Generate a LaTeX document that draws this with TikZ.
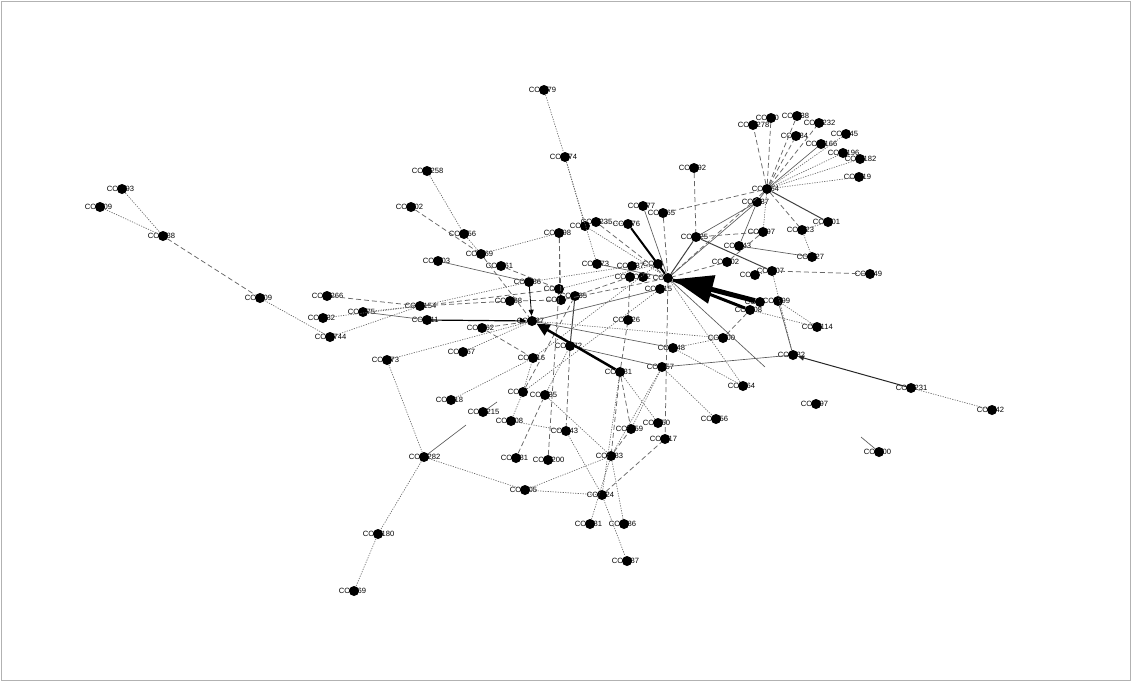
\documentclass[tikz,border=0pt]{standalone}
\usepackage{fontspec}
\setmainfont{Liberation Sans}
\usetikzlibrary{arrows.meta}

\tikzset{
  lab/.style={inner sep=0.3pt, font=\fontsize{7.6}{8}\selectfont},
  cog/.style={circle, fill=black, inner sep=0pt, minimum size=10pt,
    label={[lab, label distance=-2pt]left:CO},
    label={[lab, label distance=-2pt]right:#1}},
  cog/.default={},
  dt/.style={gray!80!black, line width=0.65pt, dash pattern=on 1.2pt off 1.3pt},
  ds/.style={gray!80!black, line width=0.75pt, dash pattern=on 5pt off 3pt},
  sl/.style={gray!70!black, line width=0.65pt},
  dk/.style={black!75, line width=1pt},
  arr/.style={black, line width=1.2pt, -{Triangle[length=7pt,width=6pt]}},
}

\begin{document}
\begin{tikzpicture}[x=1pt,y=-1pt]
\useasboundingbox (0,0) rectangle (1131,681);
\draw[gray!60, line width=0.8pt] (1,1) rectangle (1130,680);

% nodes, left
\node[cog=93] (c193) at (122,189) {};
\node[cog=09] (c209) at (100,207) {};
\node[cog=88] (c188) at (163,236) {};
\node[cog=09] (c109) at (260,298) {};
\node[cog=266] (c266) at (327,296) {};
\node[cog=32] (c32) at (323,318) {};
\node[cog=744] (c744) at (330,337) {};
\node[cog=75] (c75) at (363,312) {};
\node[cog=154] (c154) at (420,306) {};
\node[cog=11] (c11) at (427,320) {};
\node[cog=73] (c73) at (387,360) {};
\node[cog=282] (c282) at (424,457) {};
\node[cog=180] (c180) at (378,534) {};
\node[cog=69] (c69) at (354,591) {};
\node[cog=258] (c258) at (427,171) {};
\node[cog=02] (c102) at (411,207) {};
\node[cog=56] (c156) at (464,234) {};
\node[cog=69] (c169) at (481,254) {};
\node[cog=03] (c103) at (438,261) {};
\node[cog=61] (c61) at (501,266) {};
\node[cog=86] (c86a) at (529,282) {};
\node[cog] (c559) at (559,289) {};
\node[cog=35] (c575) at (575,296) {};
\node[cog] (c561) at (561,300) {};
\node[cog=88] (c88) at (510,301) {};
\node[cog=37] (c37) at (532,321) {};
\node[cog=62] (c162) at (482,328) {};
\node[cog=67] (c67) at (463,352) {};
\node[cog=72] (c72) at (570,346) {};
\node[cog=16] (c16) at (533,358) {};
\node[cog=18] (c18) at (451,400) {};
\node[cog] (c523) at (523,392) {};
\node[cog=35] (c545) at (545,395) {};
\node[cog=215] (c215) at (483,412) {};
\node[cog=08] (c08) at (511,421) {};
\node[cog=43] (c43) at (566,431) {};
\node[cog=81] (c81) at (516,458) {};
\node[cog=200] (c200) at (548,460) {};
\node[cog=05] (c05) at (525,490) {};

% nodes, centre
\node[cog=79] (c79) at (544,90) {};
\node[cog=74] (c174) at (565,157) {};
\node[cog=98] (c98) at (559,233) {};
\node[cog] (c585) at (585,226) {};
\node[cog=235] (c235) at (596,222) {};
\node[cog=76] (c76) at (628,224) {};
\node[cog=77] (c77) at (643,206) {};
\node[cog=65] (c65) at (663,213) {};
\node[cog=92] (c92) at (694,168) {};
\node[cog=25] (c25) at (696,237) {};
\node[cog=73] (c173) at (597,264) {};
\node[cog=37] (c137) at (632,266) {};
\node[cog] (c630) at (630,277) {};
\node[cog=2] (c643) at (643,277) {};
\node[cog] (c658) at (658,264) {};
\node[cog=15] (c660) at (660,289) {};
\node[cog] (hub) at (668,278) {};
\node[cog=26] (c126) at (628,320) {};
\node[cog=00] (c100) at (723,338) {};
\node[cog=48] (c148) at (673,348) {};
\node[cog=57] (c57) at (662,367) {};
\node[cog=81] (c281) at (620,372) {};
\node[cog=64] (c64) at (743,386) {};
\node[cog=56] (c56) at (716,419) {};
\node[cog=50] (c50) at (658,423) {};
\node[cog=59] (c59) at (631,429) {};
\node[cog=17] (c17) at (665,439) {};
\node[cog=83] (c83) at (611,456) {};
\node[cog=24] (c24) at (602,495) {};
\node[cog=81] (c181) at (590,524) {};
\node[cog=86] (c86) at (624,524) {};
\node[cog=87] (c87) at (627,561) {};

% nodes, right
\node[cog=02] (c202) at (727,262) {};
\node[cog=43] (c243) at (739,246) {};
\node[cog] (c755) at (755,275) {};
\node[cog=07] (c207) at (772,271) {};
\node[cog=27] (c127) at (812,257) {};
\node[cog=49] (c49) at (870,274) {};
\node[cog] (c760) at (760,302) {};
\node[cog=99] (c99) at (778,301) {};
\node[cog=08] (c308) at (750,310) {};
\node[cog=114] (c114) at (817,327) {};
\node[cog=82] (c82) at (793,355) {};
\node[cog=97] (c197) at (816,404) {};
\node[cog=231] (c231) at (911,388) {};
\node[cog=42] (c42) at (992,410) {};
\node[cog=00] (c900) at (879,452) {};
\node[cog=64] (c164) at (767,189) {};
\node[cog=37] (c237) at (757,202) {};
\node[cog=97] (c297) at (763,232) {};
\node[cog=23] (c23) at (802,230) {};
\node[cog=01] (c301) at (828,222) {};
\node[cog=278] (c278) at (753,125) {};
\node[cog=0] (c10) at (771,118) {};
\node[cog=38] (c38) at (797,116) {};
\node[cog=232] (c232) at (819,123) {};
\node[cog=84] (c84) at (796,136) {};
\node[cog=45] (c45) at (846,134) {};
\node[cog=166] (c166) at (821,144) {};
\node[cog=196] (c196) at (843,153) {};
\node[cog=182] (c182) at (860,159) {};
\node[cog=19] (c19) at (859,177) {};

\coordinate (s1) at (466,425);
\coordinate (s2) at (765,367);
\coordinate (s3) at (861,437);
\coordinate (s4) at (497,402);

% edges, left
\draw[dt] (c193) -- (c188);
\draw[dt] (c209) -- (c188);
\draw[ds] (c188) -- (c109);
\draw[dt] (c109) -- (c744);
\draw[ds] (c266) -- (c154);
\draw[dt] (c32) -- (c154);
\draw[dt] (c744) -- (c154);
\draw[sl] (c75) -- (c11);
\draw[dt] (c75) -- (c154);
\draw[arr] (c11) -- (c37);
\draw[dt] (c73) -- (c37);
\draw[dt] (c73) -- (c282);
\draw[dt] (c282) -- (c180);
\draw[dt] (c180) -- (c69);
\draw[dt] (c282) -- (c05);
\draw[sl] (c282) -- (s1);
\draw[sl] (c215) -- (s4);
\draw[dt] (c05) -- (c24);
\draw[dt] (c05) -- (c83);
\draw[dt] (c43) -- (c24);
\draw[ds] (c81) -- (c545);
\draw[ds] (c200) -- (c559);
\draw[dt] (c18) -- (c16);
\draw[ds] (c162) -- (c37);
\draw[ds] (c162) -- (c16);
\draw[dt] (c67) -- (c37);
\draw[ds] (c72) -- (c43);
\draw[dt] (c08) -- (c43);
\draw[dt] (c545) -- (c83);
\draw[dt] (c523) -- (c16);
\draw[dt] (c523) -- (c08);
\draw[ds] (c523) -- (c575);
\draw[dt] (c545) -- (c72);
\draw[ds] (c154) -- (c88);
\draw[ds] (c88) -- (c561);
\draw[ds] (c154) -- (c559);
\draw[dt] (c154) -- (c86a);
\draw[dt] (c258) -- (c156);
\draw[dt] (c156) -- (c169);
\draw[ds] (c102) -- (c169);
\draw[sl] (c103) -- (c86a);
\draw[ds] (c169) -- (c37);
\draw[dt] (c169) -- (c98);
\draw[ds] (c61) -- (c559);
\draw[black, line width=0.8pt, -{Triangle[length=6pt,width=5pt]}] (c86a) -- (c37);
\draw[dk] (c72) -- (c575);
\draw[dt] (c16) -- (c658);
\draw[dt] (c523) -- (c660);
\draw[sl] (c37) -- (c148);
\draw[sl] (c37) -- (c660);
\draw[dt] (c37) -- (c100);
\draw[sl] (c72) -- (c57);

% edges, centre
\draw[dt] (c79) -- (c174);
\draw[dt] (c174) -- (c585);
\draw[dt] (c174) -- (c173);
\draw[ds] (c98) -- (c559);
\draw[ds] (c98) -- (c561);
\draw[dt] (c585) -- (hub);
\draw[ds] (c235) -- (hub);
\draw[dt] (c235) -- (c76);
\draw[black, line width=2pt] (c76) -- (hub);
\draw[sl] (c77) -- (hub);
\draw[ds] (c65) -- (hub);
\draw[ds] (c92) -- (c25);
\draw[dk] (c25) -- (hub);
\draw[dk] (c25) -- (c207);
\draw[sl] (c25) -- (c237);
\draw[ds] (c25) -- (c297);
\draw[dt] (c559) -- (c658);
\draw[ds] (c575) -- (c630);
\draw[dt] (c86a) -- (c137);
\draw[ds] (c561) -- (hub);
\draw[sl] (c173) -- (hub);
\draw[ds] (c126) -- (c630);
\draw[black, line width=2.5pt, -{Triangle[length=13pt,width=12pt]}] (c281) -- (c37);
\draw[black, line width=3pt] (c308) -- (hub);
\draw[black, line width=5pt, -{Triangle[length=40pt,width=28pt]}] (c760) -- (hub);
\draw[sl] (hub) -- (s2);
\draw[dt] (c148) -- (c100);
\draw[dt] (c148) -- (c64);
\draw[ds] (c100) -- (c308);
\draw[sl] (c57) -- (c82);
\draw[dt] (c57) -- (c56);
\draw[dt] (c57) -- (c59);
\draw[dt] (c57) -- (c83);
\draw[ds] (hub) -- (c17);
\draw[dt] (hub) -- (c64);
\draw[ds] (c281) -- (c83);
\draw[ds] (c281) -- (c59);
\draw[dt] (c281) -- (c50);
\draw[ds] (c281) -- (c126);
\draw[dt] (c281) -- (c24);
\draw[ds] (c83) -- (c59);
\draw[dt] (c83) -- (c181);
\draw[dt] (c83) -- (c86);
\draw[ds] (c24) -- (c17);
\draw[dt] (c24) -- (c87);

% edges, right
\draw[sl] (c237) -- (hub);
\draw[sl] (c237) -- (c243);
\draw[ds] (c164) -- (hub);
\draw[ds] (c164) -- (c65);
\draw[ds] (c164) -- (c278);
\draw[ds] (c164) -- (c10);
\draw[ds] (c164) -- (c38);
\draw[ds] (c164) -- (c232);
\draw[ds] (c164) -- (c84);
\draw[dt] (c164) -- (c45);
\draw[sl] (c164) -- (c166);
\draw[dt] (c164) -- (c196);
\draw[dt] (c164) -- (c182);
\draw[dt] (c164) -- (c19);
\draw[dk] (c164) -- (c301);
\draw[ds] (c164) -- (c23);
\draw[dt] (c164) -- (c297);
\draw[sl] (c164) -- (c237);
\draw[dt] (c301) -- (c23);
\draw[dt] (c23) -- (c127);
\draw[sl] (c243) -- (c127);
\draw[ds] (c297) -- (c202);
\draw[ds] (c202) -- (hub);
\draw[ds] (c49) -- (c207);
\draw[dt] (c207) -- (c755);
\draw[dt] (c82) -- (c207);
\draw[sl] (c82) -- (c99);
\draw[black!85, line width=1pt, -{Triangle[length=6pt,width=5pt]}] (c231) -- (c82);
\draw[dt] (c231) -- (c42);
\draw[dt] (c114) -- (c308);
\draw[dt] (c114) -- (c99);
\draw[sl] (s3) -- (c900);
\end{tikzpicture}
\end{document}
